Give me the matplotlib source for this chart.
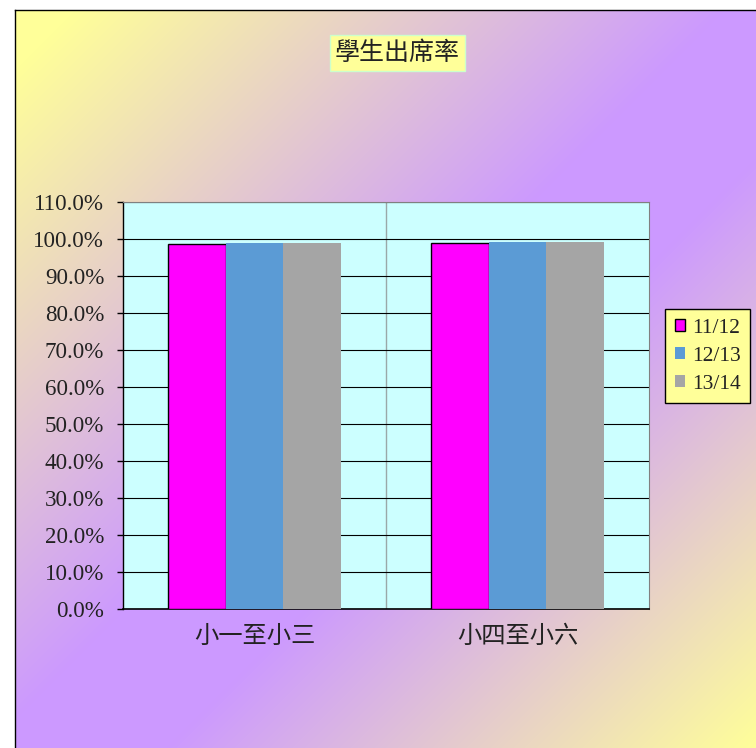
import numpy as np
import matplotlib
matplotlib.use("Agg")
import matplotlib.pyplot as plt
from matplotlib.ticker import PercentFormatter

# 資料
categories = ["小一至小三", "小四至小六"]
years = ["11/12", "12/13", "13/14"]
rate_1112 = [98.6, 99.0]
rate_1213 = [98.8, 99.2]
rate_1314 = [99.0, 99.2]
bar_colors = ["#FF00FF", "#5B9BD5", "#A5A5A5"]
bar_edges = ["black", "none", "none"]

W, H = 756, 748
fig = plt.figure(figsize=(W / 100, H / 100), dpi=100)
fig.patch.set_facecolor("white")

# 漸層背景 (黃 -> 紫 -> 黃)
bg = fig.add_axes([15 / W, 0, (W - 15) / W, (H - 10) / H])
bw, bh = W - 15, H - 10
xx, yy = np.meshgrid(np.arange(bw), np.arange(bh))
t = (xx + yy) / (bw + bh)
stops = [0.0, 0.04, 0.48, 0.6, 1.0]
yel = np.array([255, 255, 153]) / 255
pur = np.array([204, 153, 255]) / 255
img = np.zeros((bh, bw, 3))
for c in range(3):
    img[..., c] = np.interp(t, stops, [yel[c], yel[c], pur[c], pur[c], yel[c]])
bg.imshow(img, aspect="auto", extent=(0, bw, bh, 0), interpolation="bilinear")
bg.set_xticks([])
bg.set_yticks([])
for side in ["right", "bottom"]:
    bg.spines[side].set_visible(False)
for side in ["left", "top"]:
    bg.spines[side].set_color("black")
    bg.spines[side].set_linewidth(1.0)

# 主圖
ax = fig.add_axes([123 / W, (H - 609) / H, (649 - 123) / W, (609 - 202) / H])
ax.set_facecolor("#CCFFFF")

x = np.arange(len(categories))
w = 0.2205
series = [rate_1112, rate_1213, rate_1314]
for i, vals in enumerate(series):
    ax.bar(x + (i - 1) * w, np.array(vals) / 100, width=w, color=bar_colors[i],
           edgecolor=bar_edges[i], linewidth=1.0, label=years[i], zorder=3)

ax.set_xlim(-0.5, 1.5)
ax.set_ylim(0, 1.1)
ax.set_yticks(np.arange(0, 1.101, 0.1))
ax.yaxis.set_major_formatter(PercentFormatter(1.0, decimals=1))
ax.grid(axis="y", color="black", linewidth=0.8, zorder=1)
ax.axvline(0.5, color="#9AA8A8", linewidth=1.0, zorder=1)

ax.set_xticks(x)
ax.set_xticklabels(categories, family=["Noto Sans CJK TC", "DejaVu Sans"],
                   fontsize=17.5, color="#222222")
ax.tick_params(axis="x", length=0, pad=10)
ax.tick_params(axis="y", length=4.5, width=1.0, color="black", pad=9,
               labelsize=16.6)
for lab in ax.get_yticklabels():
    lab.set_family(["Liberation Serif", "DejaVu Serif"])
    lab.set_color("#222222")

ax.spines["left"].set_color("black")
ax.spines["bottom"].set_color("black")
ax.spines["left"].set_linewidth(1.0)
ax.spines["bottom"].set_linewidth(1.2)
ax.spines["top"].set_color("#808080")
ax.spines["right"].set_color("#808080")

# 標題
fig.text(397 / W, 1 - 53 / H, "學生出席率", ha="center", va="center",
         family=["Noto Sans CJK TC", "DejaVu Sans"], fontsize=18, color="#222222",
         bbox=dict(boxstyle="square,pad=0.2", facecolor="#FFFF99",
                   edgecolor="#CCFFCC", linewidth=1.0))

# 圖例
leg = fig.legend(loc="upper left", bbox_to_anchor=(665 / W, 1 - 309 / H),
                 borderaxespad=0, frameon=True, fancybox=False,
                 prop={"family": ["Liberation Serif", "DejaVu Serif"], "size": 15.5},
                 handlelength=0.5, handleheight=0.5, handletextpad=0.3,
                 labelspacing=0.42, borderpad=0.45)
leg.get_frame().set_facecolor("#FFFF99")
leg.get_frame().set_edgecolor("black")
leg.get_frame().set_alpha(1)
leg.get_frame().set_linewidth(1.0)
for txt in leg.get_texts():
    txt.set_color("#222222")

plt.savefig("out.png", dpi=100)
